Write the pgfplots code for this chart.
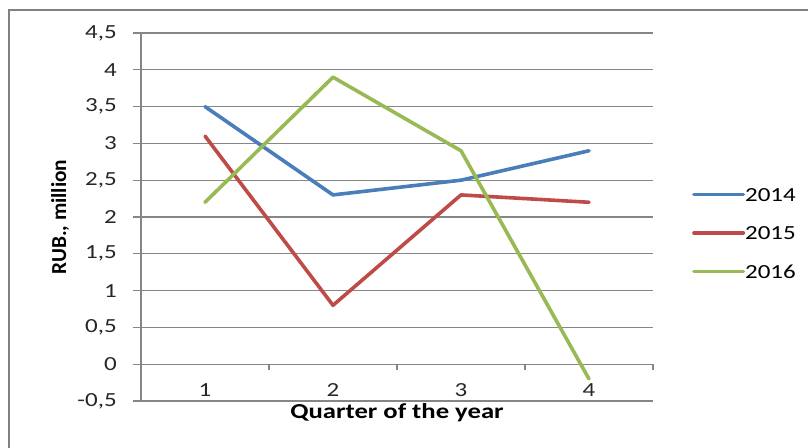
\documentclass[border=0pt]{standalone}
\usepackage{pgfplots}
\pgfplotsset{compat=1.18}
\usepackage{fontspec}
\setmainfont{Carlito}[FakeStretch=1.25]
\newfontfamily\plainfont{Carlito}
\definecolor{c14}{RGB}{74,126,187}
\definecolor{c15}{RGB}{190,75,72}
\definecolor{c16}{RGB}{152,185,84}
\definecolor{gridc}{RGB}{134,134,134}
\definecolor{borderc}{RGB}{128,128,128}
\begin{document}
\begin{tikzpicture}[font=\fontsize{15pt}{17pt}\selectfont]
\useasboundingbox (-105.75pt,-35.25pt) rectangle (500.25pt,300.75pt);
\begin{axis}[
  at={(0pt,0pt)}, anchor=south west,
  scale only axis, width=384pt, height=276pt,
  font=\fontsize{15pt}{17pt}\selectfont,
  xmin=0.5, xmax=4.5, ymin=-0.5, ymax=4.5,
  axis line style={draw=none},
  major tick length=0pt,
  ymajorgrids, grid style={gridc, line width=0.9pt},
  ytick={-0.5,0,0.5,1,1.5,2,2.5,3,3.5,4,4.5},
  yticklabels={{-0,5},0,{0,5},1,{1,5},2,{2,5},3,{3,5},4,{4,5}},
  yticklabel style={anchor=east, inner sep=0pt, xshift=-18pt, text=black!85},
  xtick={1,2,3,4},
  xticklabels={1,2,3,4},
  xticklabel style={anchor=base, inner sep=0pt, yshift=3pt, text=black!85},
  xlabel={\fontsize{16pt}{18pt}\selectfont\bfseries Quarter of the year},
  ylabel={\plainfont\fontsize{16pt}{18pt}\selectfont\bfseries RUB., million},
  xlabel style={at={(axis description cs:0.5,0)}, anchor=center, yshift=-9pt},
  ylabel style={at={(axis description cs:-0.158,0.5)}, anchor=center},
  legend style={at={(axis description cs:1.076,0.4565)}, anchor=west, draw=none, fill=none,
    inner sep=0pt, row sep=18.9pt,
    nodes={inner sep=0pt, text height=10pt, text depth=0pt},
    cells={anchor=west},
    /tikz/every even column/.append style={column sep=2pt}},
  legend image code/.code={\draw[#1] (0pt,0pt) -- (37pt,0pt);},
  every axis plot/.append style={line width=2.7pt, line join=round, line cap=round},
  clip=false,
]
\draw[gridc, line width=0.9pt] (axis cs:0.5,-0.5) -- (axis cs:0.5,4.5);
\draw[gridc, line width=0.9pt] (axis cs:0.5,0) -- (axis cs:4.5,0);
\pgfplotsinvokeforeach{-0.5,0,0.5,1,1.5,2,2.5,3,3.5,4,4.5}{
  \draw[gridc, line width=0.9pt] (axis cs:0.5,#1) -- ++(-6pt,0pt);
}
\pgfplotsinvokeforeach{0.5,1.5,2.5,3.5,4.5}{
  \draw[gridc, line width=0.9pt] (axis cs:#1,0) -- ++(0pt,-4.5pt);
}
\addplot[c14] coordinates {(1,3.5) (2,2.3) (3,2.5) (4,2.9)};
\addlegendentry{2014}
\addplot[c15] coordinates {(1,3.1) (2,0.8) (3,2.3) (4,2.2)};
\addlegendentry{2015}
\addplot[c16] coordinates {(1,2.2) (2,3.9) (3,2.9) (4,-0.2)};
\addlegendentry{2016}
\end{axis}
\draw[borderc, line width=1.5pt] (-99pt,-35.25pt) -- (-99pt,293.25pt) -- (500.25pt,293.25pt);
\end{tikzpicture}
\end{document}
